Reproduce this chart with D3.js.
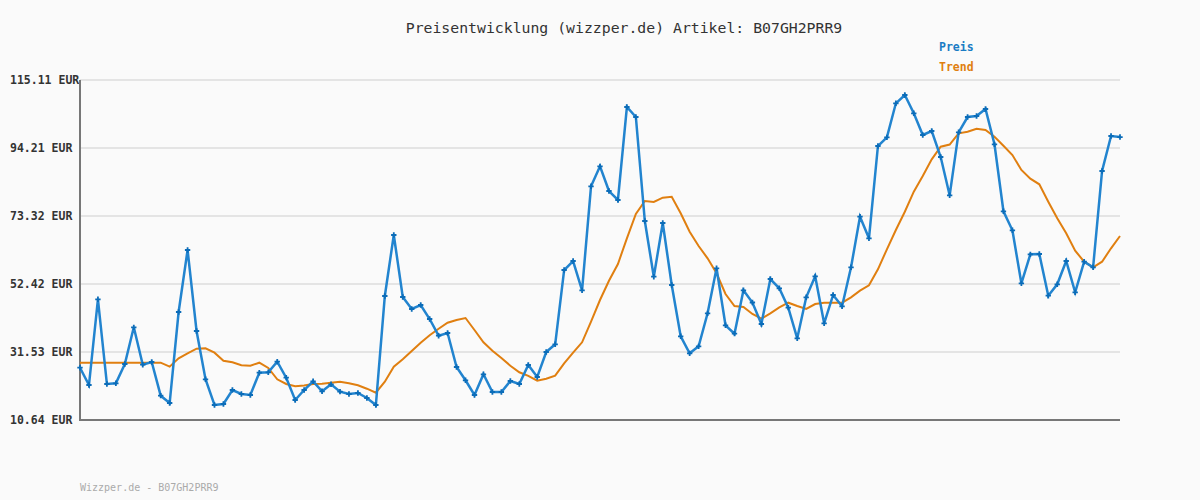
<!DOCTYPE html>
<html><head><meta charset="utf-8">
<script src="https://cdn.jsdelivr.net/npm/d3@7"></script>
<style>
html,body{margin:0;padding:0;background:#fafafa;}
svg{display:block;}
text{font-family:"DejaVu Sans Mono",monospace;}
</style></head>
<body>
<svg id="chart" width="1200" height="500"></svg>
<script>
const title = "Preisentwicklung (wizzper.de) Artikel: B07GH2PRR9";
const footer = "Wizzper.de - B07GH2PRR9";
const seriesNames = ["Preis", "Trend"];
const yTicks = [10.64, 31.53, 52.42, 73.32, 94.21, 115.11];
const yTickLabels = ["10.64 EUR", "31.53 EUR", "52.42 EUR", "73.32 EUR", "94.21 EUR", "115.11 EUR"];

const preis = [26.71,21.39,47.73,21.70,21.92,27.85,39.12,27.63,28.46,18.11,
15.86,43.82,62.87,37.99,23.15,15.25,15.56,19.86,18.63,18.32,
25.17,25.30,28.55,23.64,16.79,19.86,22.53,19.46,21.61,19.34,
18.63,18.94,17.40,15.25,48.74,67.48,48.43,44.75,45.97,41.67,
36.54,37.37,26.92,22.84,18.32,24.68,19.24,19.24,22.62,21.70,
27.54,23.85,31.53,33.90,56.73,59.49,50.49,82.45,88.59,81.00,
78.24,106.81,103.74,71.78,54.67,71.17,52.12,36.36,31.13,33.28,
43.42,57.25,39.74,37.16,50.49,46.74,40.14,53.96,51.11,45.15,
35.74,48.34,54.79,40.35,49.05,45.58,57.56,73.11,66.47,94.83,
97.50,107.95,110.50,104.88,98.21,99.44,91.45,79.68,99.04,103.74,
104.05,106.20,95.35,74.77,68.93,52.64,61.55,61.65,48.83,52.34,
59.49,49.88,59.28,57.56,87.15,97.90,97.59];

const trend = [28.25,28.25,28.25,28.25,28.25,28.25,28.25,28.25,28.25,28.25,
27.02,29.60,31.13,32.55,32.67,31.32,28.86,28.37,27.45,27.32,
28.25,26.62,23.15,21.70,20.99,21.24,21.70,21.79,22.10,22.41,
21.92,21.30,20.26,19.03,22.41,27.02,29.29,31.84,34.39,36.66,
38.69,40.54,41.37,41.98,38.29,34.51,31.93,29.69,27.32,25.30,
24.22,22.72,23.33,24.25,28.06,31.32,34.51,40.84,47.51,53.44,
58.57,66.47,73.94,77.93,77.62,78.94,79.25,74.15,68.50,64.10,
60.32,55.72,49.35,45.67,45.36,43.21,41.77,43.42,45.27,46.68,
45.67,44.75,46.28,46.68,46.68,46.68,48.34,50.37,52.03,56.94,
63.09,69.02,74.64,80.79,85.61,90.74,94.61,95.29,98.73,99.22,
100.15,99.75,97.69,94.92,92.06,87.46,84.78,83.06,77.72,72.61,
68.01,62.66,59.28,57.56,59.28,63.40,67.18];

const svg = d3.select("#chart");
const W = 1200, H = 500;
const m = {left: 80, right: 80, top: 80, bottom: 80};

const x = d3.scaleLinear().domain([0, preis.length - 1]).range([m.left, W - m.right]);
const y = d3.scaleLinear().domain([yTicks[0], yTicks[yTicks.length - 1]]).range([H - m.bottom, m.top]);

svg.append("rect").attr("width", W).attr("height", H).attr("fill", "#fafafa");

// grid
svg.append("g").selectAll("line").data(yTicks).join("line")
  .attr("x1", m.left).attr("x2", W - m.right)
  .attr("y1", d => y(d)).attr("y2", d => y(d))
  .attr("stroke", "#e4e4e4").attr("stroke-width", 2);

// y labels
svg.append("g").selectAll("text").data(yTicks).join("text")
  .attr("x", 10).attr("y", d => y(d) + 4)
  .attr("font-size", "11.5px").attr("font-weight", "bold").attr("fill", "#333")
  .text((d, i) => yTickLabels[i]);

// axes lines
svg.append("line").attr("x1", m.left).attr("x2", m.left).attr("y1", m.top).attr("y2", H - m.bottom)
  .attr("stroke", "#777").attr("stroke-width", 2);
svg.append("line").attr("x1", m.left - 1).attr("x2", W - m.right).attr("y1", H - m.bottom).attr("y2", H - m.bottom)
  .attr("stroke", "#777").attr("stroke-width", 2);

const line = d3.line().x((d, i) => x(i)).y(d => y(d));

svg.append("path").datum(trend).attr("d", line)
  .attr("fill", "none").attr("stroke", "#e07f10").attr("stroke-width", 2);

svg.append("path").datum(preis).attr("d", line)
  .attr("fill", "none").attr("stroke", "#2284cf").attr("stroke-width", 2.5);

const sym = d3.symbol().type(d3.symbolCross).size(16);
svg.append("g").selectAll("path").data(preis).join("path")
  .attr("transform", (d, i) => `translate(${x(i)},${y(d)})`)
  .attr("d", sym).attr("fill", "#0b6cb8");

// title
svg.append("text").attr("x", 624).attr("y", 33).attr("text-anchor", "middle")
  .attr("font-size", "14.8px").attr("fill", "#333").text(title);

// legend
const legendColors = ["#1a7cc4", "#e07f10"];
svg.append("g").selectAll("text").data(seriesNames).join("text")
  .attr("x", 939).attr("y", (d, i) => 51 + i * 20)
  .attr("font-size", "11.5px").attr("font-weight", "bold")
  .attr("fill", (d, i) => legendColors[i]).text(d => d);

// footer
svg.append("text").attr("x", 80).attr("y", 491).attr("font-size", "10px")
  .attr("fill", "#aaa").text(footer);
</script>
</body></html>
